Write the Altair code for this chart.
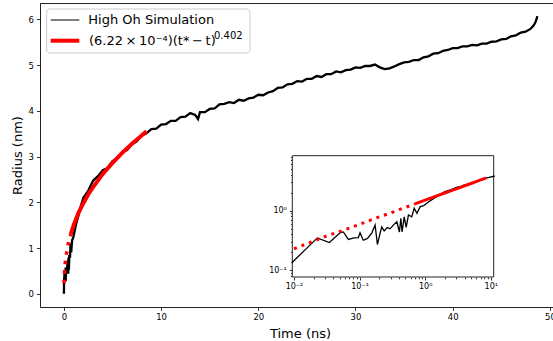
import altair as alt
import pandas as pd
import math

# ---------------- data ----------------
sim_t = [0.0, 0.0092, 0.0227, 0.0346, 0.0504, 0.0566, 0.0674, 0.0824, 0.0958, 0.1016,
         0.114, 0.132, 0.154, 0.1726, 0.187, 0.205, 0.218, 0.237, 0.265, 0.292,
         0.327, 0.370, 0.405, 0.426, 0.445, 0.479, 0.514, 0.556, 0.625, 0.68,
         0.75, 0.84, 0.95, 1.06, 1.25, 1.51, 1.75,
         2.0, 2.5, 3.0, 3.5, 4.0, 4.5, 5.0, 5.5, 6.0, 6.5, 7.0, 7.5, 8.0, 8.5,
         9.0, 9.5, 10.0, 10.5, 11.0, 11.5, 12.0, 12.5, 13.0, 13.5, 13.8, 14.0,
         14.5, 15.0, 15.5, 16.0, 16.5, 17.0, 17.5, 18.0, 18.5, 19.0, 19.5, 20.0,
         20.5, 21.0, 21.5, 22.0, 22.5, 23.0, 23.5, 24.0, 24.5, 25.0, 25.5, 26.0,
         26.5, 27.0, 27.5, 28.0, 28.5, 29.0, 29.5, 30.0, 30.5, 31.0, 31.5, 32.0,
         32.5, 33.0, 33.5, 34.0, 34.5, 35.0, 35.5, 36.0, 36.5, 37.0, 37.5, 38.0,
         38.5, 39.0, 39.5, 40.0, 40.5, 41.0, 41.5, 42.0, 42.5, 43.0, 43.5, 44.0,
         44.5, 45.0, 45.5, 46.0, 46.5, 47.0, 47.5, 48.0, 48.3, 48.5, 48.65, 48.7]
sim_r = [0.0, 0.133, 0.35, 0.293, 0.426, 0.44, 0.33, 0.35, 0.355, 0.426,
         0.32, 0.343, 0.426, 0.574, 0.271, 0.415, 0.537, 0.46, 0.522, 0.497,
         0.574, 0.652, 0.44, 0.744, 0.44, 0.79, 0.524, 0.846, 0.79, 1.10,
         0.904, 1.17, 1.22, 1.33, 1.52, 1.72, 1.92,
         2.10, 2.25, 2.47, 2.57, 2.70, 2.75, 2.90, 2.96, 3.10, 3.14, 3.27, 3.33, 3.46, 3.51,
         3.60, 3.61, 3.70, 3.71, 3.78, 3.78, 3.86, 3.87, 3.95, 3.91, 3.82, 3.97,
         3.97, 4.04, 4.05, 4.14, 4.15, 4.19, 4.17, 4.24, 4.22, 4.27, 4.29, 4.35,
         4.34, 4.40, 4.43, 4.50, 4.51, 4.58, 4.59, 4.65, 4.64, 4.70, 4.70, 4.76,
         4.74, 4.80, 4.80, 4.86, 4.84, 4.89, 4.90, 4.95, 4.94, 4.98, 4.98, 5.01,
         4.95, 4.91, 4.93, 4.97, 5.02, 5.06, 5.07, 5.11, 5.11, 5.17, 5.19, 5.25,
         5.26, 5.31, 5.33, 5.37, 5.37, 5.41, 5.41, 5.44, 5.43, 5.47, 5.47, 5.51,
         5.52, 5.56, 5.57, 5.63, 5.65, 5.71, 5.73, 5.79, 5.86, 5.93, 6.02, 6.07]

fit_dot_t = [0.01, 0.03, 0.06, 0.1, 0.15, 0.2, 0.3, 0.4, 0.5, 0.6, 0.7]
fit_dot_r = [0.23, 0.37, 0.48, 0.59, 0.70, 0.79, 0.92, 1.04, 1.14, 1.22, 1.30]
fit_solid_t = [0.7, 1.0, 1.5, 2.0, 2.5, 3.0, 4.0, 5.0, 6.0, 7.0, 8.0, 8.5]
fit_solid_r = [1.30, 1.50, 1.77, 1.98, 2.17, 2.33, 2.62, 2.86, 3.08, 3.28, 3.46, 3.55]

x_ticks = [0, 10, 20, 30, 40, 50]
y_ticks = [0, 1, 2, 3, 4, 5, 6]
inset_x_major = [0.01, 0.1, 1, 10]
inset_x_labels = ["10⁻²", "10⁻¹", "10⁰", "10¹"]
inset_y_major = [0.1, 1]
inset_y_labels = ["10⁻¹", "10⁰"]
inset_x_minor = [0.02, 0.03, 0.04, 0.05, 0.06, 0.07, 0.08, 0.09,
                 0.2, 0.3, 0.4, 0.5, 0.6, 0.7, 0.8, 0.9,
                 2, 3, 4, 5, 6, 7, 8, 9]
inset_y_minor = [0.08, 0.09, 0.2, 0.3, 0.4, 0.5, 0.6, 0.7, 0.8, 0.9,
                 2, 3, 4, 5, 6, 7, 8]
legend_labels = ["High Oh Simulation", "(6.22\u2009×\u200910⁻⁴)(t*\u2009−\u2009t)", "0.402"]
x_title = "Time (ns)"
y_title = "Radius (nm)"

# ---------------- tables ----------------
sim = pd.DataFrame({"t": sim_t, "r": sim_r})
sim_in = sim[(sim.t > 0) & (sim.t <= 11.5)]
fit_dot = pd.DataFrame({"t": fit_dot_t, "r": fit_dot_r})
fit_solid = pd.DataFrame({"t": fit_solid_t, "r": fit_solid_r})
one = pd.DataFrame({"a": [0]})

FONT = "DejaVu Sans"
W, H = 513, 304

def label_expr(vals, labels):
    expr = "''"
    for v, l in zip(reversed(vals), reversed(labels)):
        expr = f"abs(log(datum.value)/log(10) - ({math.log10(v)})) < 0.01 ? '{l}' : {expr}"
    return expr

# main scales
xs = alt.Scale(domain=[-2.46, 50.32], nice=False, zero=False)
ys = alt.Scale(domain=[-0.29, 6.357], nice=False, zero=False)
# inset scales
IX0, IX1, IY0, IY1 = 252.3, 453.7, 152.7, 274.0
xi = alt.Scale(type="log", domain=[0.00942, 11.1], range=[IX0, IX1], nice=False)
yi = alt.Scale(type="log", domain=[0.0774, 8.36], range=[IY1, IY0], nice=False)

axis_common = dict(domain=False, grid=False, tickColor="black", tickWidth=0.8,
                   labelColor="black", labelFont=FONT, titleFont=FONT,
                   titleColor="black", titleFontWeight="normal")

x_main_axis = alt.Axis(values=x_ticks, title=x_title, tickSize=3.5, labelFontSize=8.5,
                       labelPadding=2, titleFontSize=13, titleX=260, titleY=20,
                       titleBaseline="top", labelFlush=False, labelOverlap=False,
                       orient="bottom", **axis_common)
y_main_axis = alt.Axis(values=y_ticks, title=y_title, tickSize=3.5, labelFontSize=8.5,
                       labelPadding=3, titleFontSize=13, titleX=-23, titleY=152,
                       titleBaseline="middle", titleAngle=-90, orient="left",
                       **axis_common)

main_line = alt.Chart(sim).mark_line(color="black", strokeWidth=2.3, clip=True).encode(
    x=alt.X("t:Q", scale=xs, axis=x_main_axis),
    y=alt.Y("r:Q", scale=ys, axis=y_main_axis),
)
main_dot = alt.Chart(fit_dot).mark_line(color="red", strokeWidth=3.5, strokeDash=[3.5, 6],
                                        strokeCap="butt", clip=True).encode(
    x=alt.X("t:Q", scale=xs, axis=None), y=alt.Y("r:Q", scale=ys, axis=None))
main_fit = alt.Chart(fit_solid).mark_line(color="red", strokeWidth=4, clip=True).encode(
    x=alt.X("t:Q", scale=xs, axis=None), y=alt.Y("r:Q", scale=ys, axis=None))

# legend (drawn by hand)
leg_box = alt.Chart(one).mark_rect(fill="white", fillOpacity=0.8, stroke="#cccccc",
                                   strokeWidth=1, cornerRadius=3).encode(
    x=alt.value(6.7), x2=alt.value(210), y=alt.value(6.0), y2=alt.value(50.0))
leg_l1 = alt.Chart(one).mark_rule(color="black", strokeWidth=1).encode(
    x=alt.value(10.7), x2=alt.value(39.3), y=alt.value(17))
leg_l2 = alt.Chart(one).mark_rule(color="red", strokeWidth=4).encode(
    x=alt.value(10.7), x2=alt.value(39.3), y=alt.value(37.7))
leg_t1 = alt.Chart(one).mark_text(text=legend_labels[0], font=FONT, fontSize=13,
                                  align="left", baseline="middle", color="black").encode(
    x=alt.value(48.3), y=alt.value(17))
leg_t2 = alt.Chart(one).mark_text(text=legend_labels[1], font=FONT, fontSize=13,
                                  align="left", baseline="middle", color="black").encode(
    x=alt.value(49), y=alt.value(38))
leg_t3 = alt.Chart(one).mark_text(text=legend_labels[2], font=FONT, fontSize=10,
                                  align="left", baseline="middle", color="black").encode(
    x=alt.value(174), y=alt.value(33))

# inset
inset_box = alt.Chart(one).mark_rect(fill="white", stroke="#222222", strokeWidth=1).encode(
    x=alt.value(IX0), x2=alt.value(IX1), y=alt.value(IY0), y2=alt.value(IY1))

xi_axis = alt.Axis(values=inset_x_major, labelExpr=label_expr(inset_x_major, inset_x_labels),
                   title=None, tickSize=3, labelFontSize=8, labelPadding=2, orient="bottom",
                   offset=-(H - IY1), labelFlush=False, labelOverlap=False, **axis_common)
yi_axis = alt.Axis(values=inset_y_major, labelExpr=label_expr(inset_y_major, inset_y_labels),
                   title=None, tickSize=3, labelFontSize=8, labelPadding=3, orient="left",
                   offset=-IX0, labelFlush=False, labelOverlap=False, **axis_common)
xi_minor = alt.Axis(values=inset_x_minor, labels=False, title=None, tickSize=1.8,
                    orient="bottom", offset=-(H - IY1), **axis_common)
yi_minor = alt.Axis(values=inset_y_minor, labels=False, title=None, tickSize=1.8,
                    orient="left", offset=-IX0, **axis_common)

in_line = alt.Chart(sim_in).mark_line(color="black", strokeWidth=1.3, clip=True).encode(
    x=alt.X("t:Q", scale=xi, axis=xi_axis), y=alt.Y("r:Q", scale=yi, axis=yi_axis))
in_dot = alt.Chart(fit_dot).mark_line(color="red", strokeWidth=3, strokeDash=[3, 5],
                                      strokeCap="butt", clip=True).encode(
    x=alt.X("t:Q", scale=xi, axis=None), y=alt.Y("r:Q", scale=yi, axis=None))
in_fit = alt.Chart(fit_solid).mark_line(color="red", strokeWidth=3, clip=True).encode(
    x=alt.X("t:Q", scale=xi, axis=None), y=alt.Y("r:Q", scale=yi, axis=None))
in_minor = alt.Chart(fit_solid).mark_point(opacity=0).encode(
    x=alt.X("t:Q", scale=xi, axis=xi_minor), y=alt.Y("r:Q", scale=yi, axis=yi_minor))

chart = alt.layer(
    main_line, main_dot, main_fit,
    leg_box, leg_l1, leg_l2, leg_t1, leg_t2, leg_t3,
    inset_box, in_line, in_dot, in_fit, in_minor,
).resolve_scale(x="independent", y="independent").resolve_axis(
    x="independent", y="independent"
).properties(
    width=W, height=H,
    autosize=alt.AutoSizeParams(type="none"),
    padding={"left": 40, "top": 3, "right": 0, "bottom": 34},
    background="white",
).configure(font=FONT).configure_view(stroke="#222222", strokeWidth=1)

chart.save("out.html", embed_options={"renderer": "svg", "actions": False})
